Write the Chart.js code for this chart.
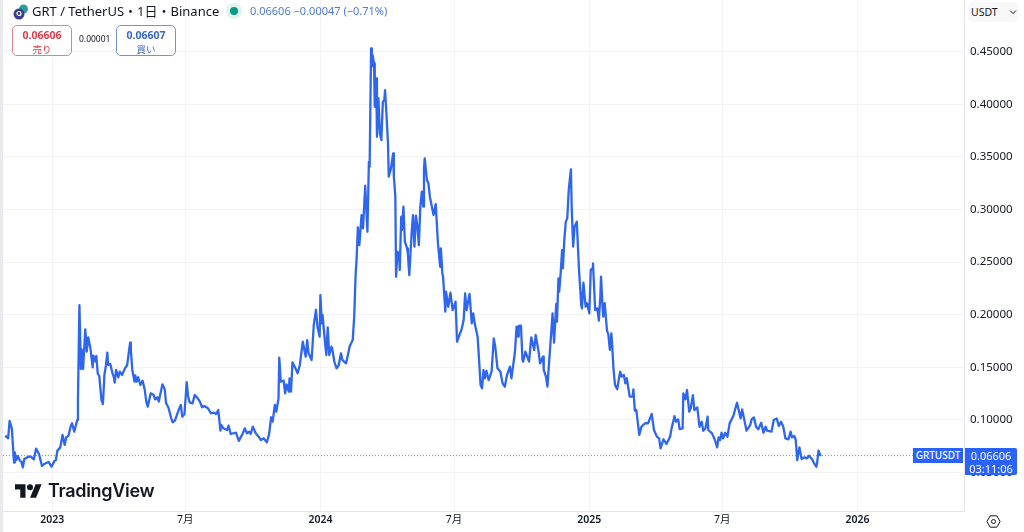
<!DOCTYPE html>
<html lang="ja">
<head>
<meta charset="utf-8">
<title>GRT / TetherUS</title>
<script src="https://cdn.jsdelivr.net/npm/chart.js@4/dist/chart.umd.min.js"></script>
<style>
    html, body { margin: 0; padding: 0; background: #fff; }
    body { position: relative; width: 1024px; height: 532px; overflow: hidden; color: #131722; font-family: "Noto Sans", "Noto Sans CJK JP", sans-serif; }
    canvas { position: absolute; left: 0; top: 0; }
    .abs { position: absolute; white-space: nowrap; }
    .edge { left: 0; top: 0; width: 3px; height: 532px; background: #e9eaee; }
    .title { left: 32px; top: 1px; font-size: 13px; line-height: 20px; }
    .quote { left: 250px; top: 2px; font-size: 11px; line-height: 18px; color: #4f78d6; }
    .dot { left: 230px; top: 7px; width: 8px; height: 8px; border-radius: 50%; background: #089981; box-shadow: 0 0 0 4px #dff3ef; }
    .box { top: 25px; width: 58px; height: 29px; border-radius: 5px; background: #fff; text-align: center; line-height: 12px; }
    .box b { display: block; font-size: 10.5px; margin-top: 3px; }
    .box span { font-size: 9.5px; }
    .sell { left: 12px; border: 1px solid #e08089; color: #d8404c; }
    .buy { left: 116px; border: 1px solid #6f93d8; color: #3c66c8; }
    .spread { left: 79px; top: 33px; font-size: 8.5px; line-height: 12px; }
    .usdt { left: 968px; top: 2px; width: 50px; height: 20px; line-height: 20px; font-size: 10.5px; background: #f8f8f9; border-radius: 5px; text-indent: 3px; }
    .tag { background: #2962ff; color: #fff; text-align: center; }
    .name { left: 913px; top: 448px; width: 50px; height: 15px; line-height: 15px; font-size: 10px; font-weight: 500; }
    .last { left: 965px; top: 448px; width: 52px; height: 27px; font-size: 11px; line-height: 13px; padding-top: 1px; box-sizing: border-box; border-radius: 0 2px 2px 0; }
    .brand { left: 48px; top: 476px; font-family: Inter, "Noto Sans", sans-serif; font-size: 18px; font-weight: 600; line-height: 30px; letter-spacing: -0.3px; }
</style>
</head>
<body>
<canvas id="priceChart" width="1024" height="532"></canvas>
<div class="abs edge"></div>

<svg class="abs" style="left:13px;top:4px" width="16" height="16" viewBox="0 0 16 16">
    <circle cx="10.5" cy="5" r="4.5" fill="#2f9e97"/>
    <circle cx="6" cy="10" r="5.5" fill="#3b3f8f"/>
    <circle cx="6" cy="9.5" r="2" fill="none" stroke="#fff" stroke-width="1.2"/>
</svg>
<div class="abs title">GRT / TetherUS・1日・Binance</div>
<div class="abs dot"></div>
<div class="abs quote">0.06606 −0.00047 (−0.71%)</div>

<div class="abs box sell"><b>0.06606</b><span>売り</span></div>
<div class="abs spread">0.00001</div>
<div class="abs box buy"><b>0.06607</b><span>買い</span></div>

<div class="abs usdt">USDT</div>
<svg class="abs" style="left:1009px;top:9px" width="8" height="6" viewBox="0 0 8 6">
    <path d="M1 1.5 L4 4.5 L7 1.5" fill="none" stroke="#131722" stroke-width="1"/>
</svg>

<div class="abs tag name">GRTUSDT</div>
<div class="abs tag last">0.06606<br>03:11:06</div>

<svg class="abs" style="left:15px;top:483px" width="27" height="16" viewBox="0 3 36 20">
    <path d="M14 22H7V11H0V4h14v18zM28 22h-8l7.5-18h8L28 22z" fill="#131722"/>
    <circle cx="20" cy="8" r="4" fill="#131722"/>
</svg>
<div class="abs brand">TradingView</div>

<svg class="abs" style="left:986px;top:514px" width="15" height="15" viewBox="0 0 15 15">
    <path d="M4.2 1.8h6.6l3.3 5.7-3.3 5.7H4.2L0.9 7.5z" fill="none" stroke="#131722" stroke-width="1"/>
    <circle cx="7.5" cy="7.5" r="2" fill="none" stroke="#131722" stroke-width="1"/>
</svg>

<script>
// 2023-01-01 からの日数
const days = [
    -64,-60,-58,-55,-52,-51,-49,-47,-44,-42,-40,-38,-32,-29,-25,-22,-18,-14,-11,-5,-1,3,5,7,11,14,17,19,22,25,27,30,34,35,37,39,40,42,45,47,49,52,55,56,59,60,62,64,67,69,71,73,75,76,79,82,84,85,87,90,92,95,99,102,106,107,109,112,113,115,117,120,123,126,128,130,132,134,138,140,143,145,150,153,155,158,162,164,167,172,175,177,180,183,185,187,191,194,198,201,204,207,212,216,220,223,226,229,230,233,238,240,243,250,254,257,259,262,265,268,270,273,277,281,284,288,292,295,298,300,303,305,308,309,311,315,317,319,322,323,325,327,331,334,337,
    341,345,347,349,353,356,359,361,364,365,367,368,371,373,375,377,380,381,384,387,390,393,395,400,405,409,411,413,414,416,418,421,423,426,429,431,432,434,435,436,438,439,441,442,444,446,448,450,452,453,455,457,458,461,464,465,467,468,470,472,473,475,476,478,480,483,484,486,489,491,493,495,497,499,501,503,505,506,507,510,512,514,519,522,525,528,529,531,532,535,536,539,542,545,549,551,555,557,560,562,564,568,571,573,575,579,581,583,585,587,589,591,594,598,601,603,606,610,613,616,619,623,
    625,629,630,632,634,635,638,640,641,644,649,652,656,658,662,664,668,669,672,674,677,681,683,686,687,689,690,692,694,695,697,699,701,703,706,707,709,711,714,715,717,720,721,723,726,728,731,733,735,736,739,742,744,746,747,749,750,752,755,757,759,761,762,764,766,769,771,773,775,778,780,782,786,790,791,793,795,799,802,807,811,816,819,823,826,828,832,836,841,
    843,847,849,852,854,858,859,862,864,867,869,872,874,878,881,884,886,889,892,893,898,902,905,907,909,911,913,916,919,922,927,932,937,939,942,945,950,952,955,958,961,965,968,971,973,979,982,986,989,992,995,998,1002,1005,1007,1010,1012,1014,1017,1020,1024,1027,1030,1034,1037,1040,1041,1043,1045,1047
];

const prices = [
    0.085,0.0825,0.099,0.092,0.0594,0.0692,0.0619,0.0657,0.0613,0.0603,0.0549,0.0629,0.0651,0.0651,0.0625,0.0727,0.0676,0.0562,0.0581,0.06,0.0556,0.061,0.0619,0.0708,0.0739,0.0857,0.0762,0.0835,0.0847,0.0936,0.0968,0.0888,0.0999,0.1189,0.2092,0.1484,0.1671,0.1484,0.1861,0.1649,0.1785,0.168,0.15,0.1611,0.1554,0.1608,0.1437,0.1418,0.1189,0.1151,0.1427,0.1513,0.1639,0.1522,0.1532,0.1443,0.1405,0.1354,0.1475,0.1405,0.1459,0.1427,0.149,0.1522,0.1734,0.1665,0.1475,0.1364,0.1424,0.1364,0.1405,0.1332,0.1373,0.1284,0.1174,0.1126,0.1189,0.1253,0.1237,0.1196,0.1215,0.1174,0.1338,0.1294,0.1158,0.112,0.1015,0.0977,0.0993,0.1094,0.1142,0.1031,0.1056,0.136,0.1221,0.1167,0.1158,0.1237,0.1205,0.1174,0.112,0.1132,0.111,0.1063,0.1069,0.1056,0.1094,0.0898,0.0952,0.092,0.0904,0.0945,0.0866,0.0879,0.08,0.0841,0.0866,0.092,0.0873,0.0888,0.0866,0.0936,0.0873,0.0841,0.0809,0.0825,0.0787,0.0857,0.1025,0.0983,0.1142,0.1078,0.1205,0.1592,0.1364,0.1373,0.1253,0.1338,0.1269,0.1395,0.1269,0.1547,0.149,0.1443,0.1522,
    0.1743,0.1601,0.1759,0.1633,0.1569,0.1902,0.2047,0.1886,0.1791,0.2187,0.1918,0.1997,0.1759,0.1617,0.188,0.1617,0.1696,0.168,0.1553,0.149,0.1522,0.1633,0.1569,0.1538,0.1702,0.1759,0.1981,0.2393,0.2488,0.283,0.2662,0.2947,0.2821,0.3226,0.2789,0.3454,0.3407,0.4532,0.4357,0.4468,0.4389,0.3977,0.4247,0.3692,0.4056,0.3724,0.366,0.4025,0.4041,0.4136,0.3898,0.3629,0.3312,0.3391,0.3534,0.3312,0.3122,0.2361,0.2599,0.2583,0.2425,0.2932,0.2805,0.3027,0.2694,0.2631,0.2583,0.2377,0.2757,0.2947,0.2647,0.2941,0.2837,0.2662,0.3027,0.3169,0.3027,0.3391,0.3486,0.328,0.3249,0.3122,0.2947,0.3052,0.2678,0.2456,0.2631,0.2393,0.2361,0.2029,0.2219,0.2076,0.2209,0.2044,0.2124,0.1743,0.1823,0.1854,0.1949,0.2203,0.2044,0.2197,0.1918,0.2013,0.1918,0.1791,0.1569,0.1332,0.13,0.1474,0.1395,0.1468,0.1379,0.1458,0.1775,0.1696,0.149,0.1458,0.1347,0.1316,0.1427,0.1506,
    0.1396,0.1602,0.1665,0.1887,0.1792,0.1893,0.1896,0.157,0.1554,0.1649,0.1554,0.1785,0.1665,0.1807,0.1649,0.1538,0.1602,0.1475,0.1411,0.1316,0.1617,0.2013,0.1735,0.2102,0.1934,0.2346,0.2219,0.2394,0.2615,0.2441,0.271,0.2885,0.2916,0.3186,0.3382,0.3027,0.2647,0.2837,0.2885,0.2726,0.2425,0.2093,0.2061,0.2305,0.2077,0.2109,0.2013,0.2425,0.2441,0.2489,0.2045,0.2061,0.1944,0.2172,0.2362,0.2077,0.1982,0.2109,0.1855,0.1807,0.1665,0.1823,0.1728,0.1475,0.1332,0.1291,0.138,0.1459,0.1411,0.1427,0.1348,0.1396,0.1221,0.1221,0.1291,0.1088,0.1095,0.0857,0.0936,0.0968,0.0968,0.1056,0.0904,0.0841,0.0825,0.073,0.0816,0.0771,0.0841,
    0.0919,0.1037,0.0983,0.1005,0.0913,0.0919,0.1252,0.1195,0.1284,0.1078,0.111,0.1236,0.1094,0.1119,0.0935,0.0983,0.0897,0.0919,0.103,0.0904,0.0872,0.0809,0.0739,0.0834,0.0809,0.0878,0.0824,0.0878,0.084,0.0967,0.1037,0.1163,0.1014,0.11,0.0999,0.0897,0.0951,0.1005,0.1024,0.0935,0.091,0.0973,0.0878,0.0935,0.0897,0.0888,0.0999,0.1014,0.0942,0.0983,0.0935,0.0824,0.0815,0.0888,0.0834,0.0847,0.0809,0.0618,0.0739,0.0628,0.0644,0.0634,0.066,0.0628,0.0587,0.0555,0.0587,0.0707,0.0666,0.0666
];

const lastPrice = 0.06606;
const xTickDays = [0, 181, 365, 547, 731, 912, 1096];
const xTickLabels = ['2023', '7月', '2024', '7月', '2025', '7月', '2026'];
const yTicks = [0.05, 0.10, 0.15, 0.20, 0.25, 0.30, 0.35, 0.40, 0.45];

const tickFont = 'Noto Sans, Noto Sans CJK JP, sans-serif';

// 年のラベルだけ太字
function xTickWeight(ctx) {
    if (!ctx.tick) return '400';
    const label = xTickLabels[xTickDays.indexOf(ctx.tick.value)];
    return label && label.length === 4 ? '600' : '400';
}

new Chart(document.getElementById('priceChart'), {
    type: 'line',
    data: {
        datasets: [{
            label: 'GRTUSDT',
            data: days.map((d, i) => ({ x: d, y: prices[i] })),
            borderColor: '#2f66ee',
            borderWidth: 2.3,
            borderJoinStyle: 'round',
            pointRadius: 0,
            tension: 0
        }, {
            label: 'last',
            data: [{ x: -67, y: lastPrice }, { x: 1173, y: lastPrice }],
            borderColor: '#6f8fd6',
            borderWidth: 1,
            borderDash: [1, 2],
            pointRadius: 0
        }]
    },
    options: {
        responsive: false,
        animation: false,
        layout: { padding: { left: 3, top: 0, right: 0, bottom: 0 } },
        plugins: { legend: { display: false }, tooltip: { enabled: false } },
        scales: {
            x: {
                type: 'linear',
                min: -67,
                max: 1241,
                afterBuildTicks: axis => { axis.ticks = xTickDays.map(v => ({ value: v })); },
                afterFit: axis => {
                    axis.height = 21;
                    axis.paddingLeft = 0;
                    axis.paddingRight = 0;
                },
                grid: { color: '#f3f4f6', drawTicks: false },
                border: { color: '#e3e5eb' },
                ticks: {
                    maxRotation: 0,
                    autoSkip: false,
                    padding: 3,
                    color: '#131722',
                    font: ctx => ({ family: tickFont, size: 10.5, weight: xTickWeight(ctx) }),
                    callback: value => xTickLabels[xTickDays.indexOf(value)]
                }
            },
            y: {
                position: 'right',
                min: 0.0134,
                max: 0.4992,
                afterBuildTicks: axis => { axis.ticks = yTicks.map(v => ({ value: v })); },
                afterFit: axis => {
                    axis.width = 60;
                    axis.paddingTop = 0;
                    axis.paddingBottom = 0;
                },
                grid: { color: '#f3f4f6', drawTicks: false },
                border: { color: '#e3e5eb' },
                ticks: {
                    padding: 6,
                    color: '#131722',
                    font: { family: tickFont, size: 11.5 },
                    callback: value => value.toFixed(5)
                }
            }
        }
    }
});
</script>
</body>
</html>
